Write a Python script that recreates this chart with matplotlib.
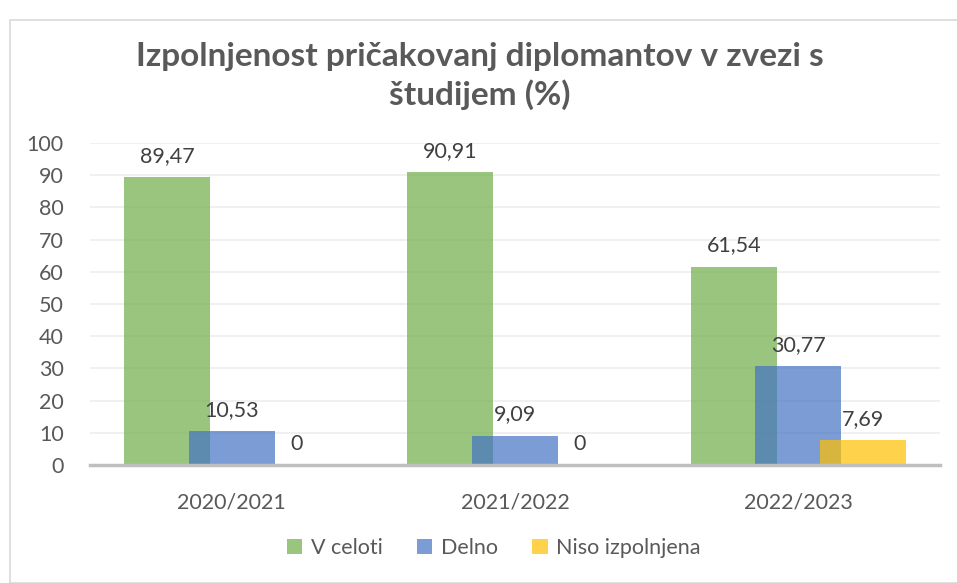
import numpy as np
import matplotlib.pyplot as plt
from matplotlib.patches import Rectangle

# data
years = ["2020/2021", "2021/2022", "2022/2023"]
v_celoti = [89.47, 90.91, 61.54]
delno = [10.53, 9.09, 30.77]
niso = [0, 0, 7.69]
series_names = ["V celoti", "Delno", "Niso izpolnjena"]
labels_txt = [["89,47", "90,91", "61,54"],
              ["10,53", "9,09", "30,77"],
              ["0", "0", "7,69"]]

colors = ["#70AD47", "#4472C4", "#FFC000"]
font = "Lato"

fig = plt.figure(figsize=(9.57, 5.83), dpi=100)
W, H = 957, 583

# light outer frame like the Excel chart area
fig.patches.append(Rectangle((10 / W, 0), 1.2, (H - 20) / H, transform=fig.transFigure,
                             fill=False, edgecolor="#D9D9D9", linewidth=1.2))

ax = fig.add_axes([90 / W, (H - 465) / H, 850 / W, (465 - 143) / H])

x = np.arange(len(years))
width = 0.304
step = 0.228
for k, vals in enumerate([v_celoti, delno, niso]):
    pos = x + (k - 1) * step
    ax.bar(pos, vals, width, color=colors[k], alpha=0.7, label=series_names[k],
           zorder=2 + k, linewidth=0)
    for p, v, t in zip(pos, vals, labels_txt[k]):
        ax.text(p, v + 3.5, t, ha="center", va="bottom", fontsize=15.5,
                color="#404040", family=font, zorder=10)

ax.set_xlim(-0.5, 2.5)
ax.set_ylim(0, 100)
ax.set_yticks(range(0, 101, 10))
ax.set_xticks(x)
ax.set_xticklabels(years)
ax.grid(axis="y", color="#EDEDED", linewidth=1.2, zorder=0)
ax.set_axisbelow(True)
for s in ["top", "right", "left"]:
    ax.spines[s].set_visible(False)
ax.spines["bottom"].set_color("#BFBFBF")
ax.spines["bottom"].set_linewidth(2.5)
ax.spines["bottom"].set_zorder(20)
ax.tick_params(length=0, labelsize=15.5, labelcolor="#595959")
ax.tick_params(axis="y", pad=19)
ax.tick_params(axis="x", pad=20)
for lab in ax.get_xticklabels() + ax.get_yticklabels():
    lab.set_family(font)

fig.text(480 / W, 1 - 76 / H, "Izpolnjenost pričakovanj diplomantov v zvezi s\nštudijem (%)",
         ha="center", va="center", fontsize=24, fontweight="bold", color="#595959",
         family=font, linespacing=1.3)

leg = fig.legend(loc="center", bbox_to_anchor=(494 / W, 1 - 548 / H), ncol=3, frameon=False,
                 prop={"family": font, "size": 15.5}, handlelength=0.7, handleheight=0.7,
                 handletextpad=0.4, columnspacing=1.6)
for t in leg.get_texts():
    t.set_color("#595959")

fig.savefig("out.png", dpi=100)
